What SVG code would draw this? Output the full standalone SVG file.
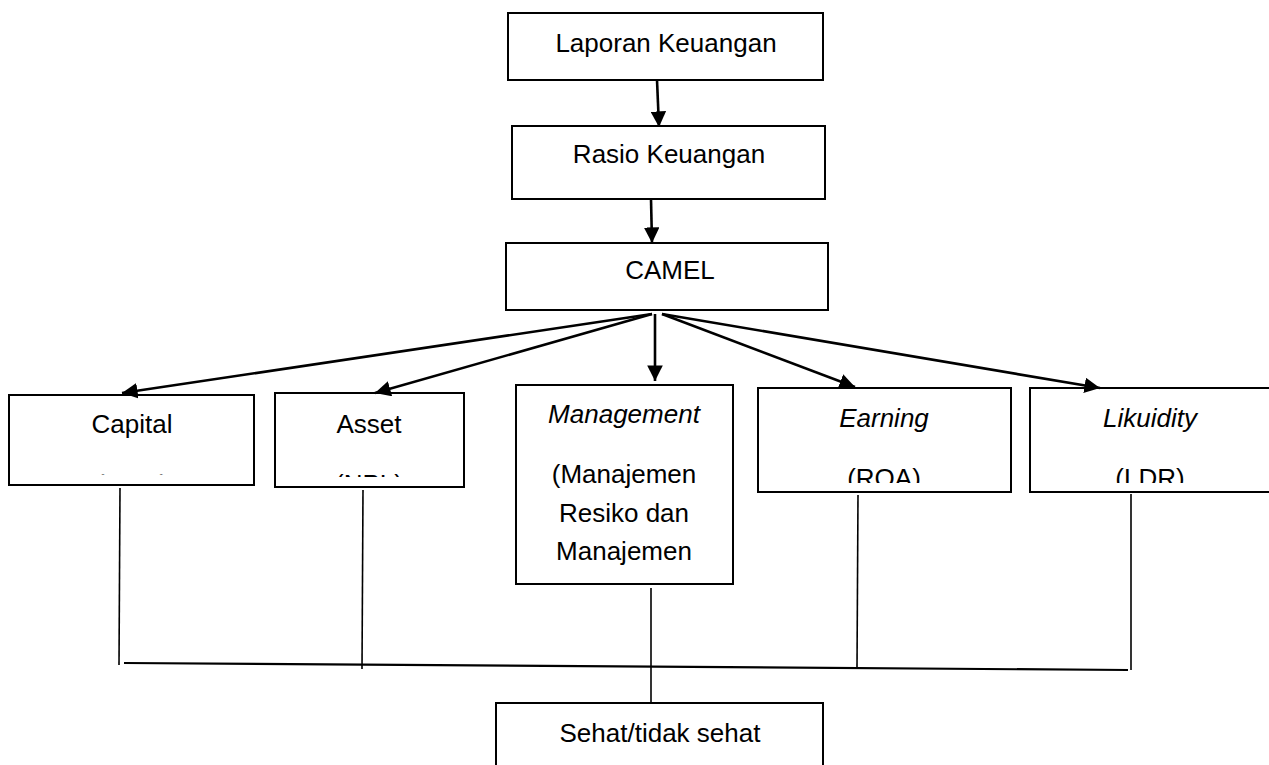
<svg xmlns="http://www.w3.org/2000/svg" width="1269" height="765" viewBox="0 0 1269 765">
<style>
.box{fill:#fff;stroke:#000;stroke-width:2}
.t{font-family:"Liberation Sans",Arial,sans-serif;font-size:26px;fill:#000;text-anchor:middle}
.i{font-style:italic}
.arr{stroke:#000;stroke-width:2.6;fill:none;marker-end:url(#ah)}
.ln{stroke:#000;stroke-width:1.6;fill:none}
</style>
<defs>
<marker id="ah" viewBox="0 0 10 10" refX="10" refY="5" markerWidth="6" markerHeight="6" markerUnits="strokeWidth" orient="auto">
<path d="M0,0 L10,5 L0,10 z" fill="#000"/>
</marker>
<clipPath id="cCap"><rect x="9" y="395" width="245" height="79.5"/></clipPath>
<clipPath id="cAss"><rect x="275" y="393" width="189" height="84"/></clipPath>
<clipPath id="cMan"><rect x="516" y="385" width="217" height="185"/></clipPath>
<clipPath id="cEar"><rect x="758" y="388" width="253" height="95"/></clipPath>
<clipPath id="cLik"><rect x="1030" y="388" width="239" height="95"/></clipPath>
</defs>
<rect width="1269" height="765" fill="#fff"/>

<g id="laporan">
<rect class="box" x="508" y="13" width="315" height="67"/>
<text class="t" x="666" y="52">Laporan Keuangan</text>
</g>
<g id="rasio">
<rect class="box" x="512" y="126" width="313" height="73"/>
<text class="t" x="669" y="163">Rasio Keuangan</text>
</g>
<g id="camel">
<rect class="box" x="506" y="243" width="322" height="67"/>
<text class="t" x="670" y="279">CAMEL</text>
</g>
<g id="capital">
<rect class="box" x="9" y="395" width="245" height="90"/>
<text class="t" x="132" y="433">Capital</text>
<text class="t" x="132" y="493" clip-path="url(#cCap)">(CAR)</text>
</g>
<g id="asset">
<rect class="box" x="275" y="393" width="189" height="94"/>
<text class="t" x="369" y="433">Asset</text>
<text class="t" x="369" y="493" clip-path="url(#cAss)">(NPL)</text>
</g>
<g id="management">
<rect class="box" x="516" y="385" width="217" height="199"/>
<text class="t i" x="624" y="423">Management</text>
<g clip-path="url(#cMan)">
<text class="t" x="624" y="483">(Manajemen</text>
<text class="t" x="624" y="522">Resiko dan</text>
<text class="t" x="624" y="560">Manajemen</text>
</g>
</g>
<g id="earning">
<rect class="box" x="758" y="388" width="253" height="104"/>
<text class="t i" x="884" y="427">Earning</text>
<text class="t" x="884" y="487" clip-path="url(#cEar)">(ROA)</text>
</g>
<g id="likuidity">
<rect class="box" x="1030" y="388" width="245" height="104"/>
<text class="t i" x="1150" y="427">Likuidity</text>
<text class="t" x="1150" y="487" clip-path="url(#cLik)">(LDR)</text>
</g>
<g id="sehat">
<rect class="box" x="496" y="703" width="327" height="70"/>
<text class="t" x="660" y="742">Sehat/tidak sehat</text>
</g>

<g id="connectors">
<line class="arr" x1="657" y1="80" x2="659" y2="127"/>
<line class="arr" x1="651" y1="199" x2="652" y2="243"/>
<line class="arr" x1="652" y1="314" x2="122" y2="393"/>
<line class="arr" x1="652" y1="314" x2="375" y2="393"/>
<line class="arr" x1="655" y1="314" x2="655" y2="381"/>
<line class="arr" x1="662" y1="314" x2="855" y2="387"/>
<line class="arr" x1="662" y1="314" x2="1100" y2="388"/>
<line class="ln" x1="120" y1="488" x2="119" y2="665"/>
<line class="ln" x1="363" y1="490" x2="362" y2="669"/>
<line class="ln" x1="651" y1="588" x2="651" y2="703"/>
<line class="ln" x1="858" y1="495" x2="857" y2="669"/>
<line class="ln" x1="1131" y1="494" x2="1131" y2="670"/>
<line x1="124" y1="663" x2="1128" y2="670" stroke="#000" stroke-width="2.2"/>
</g>
</svg>
